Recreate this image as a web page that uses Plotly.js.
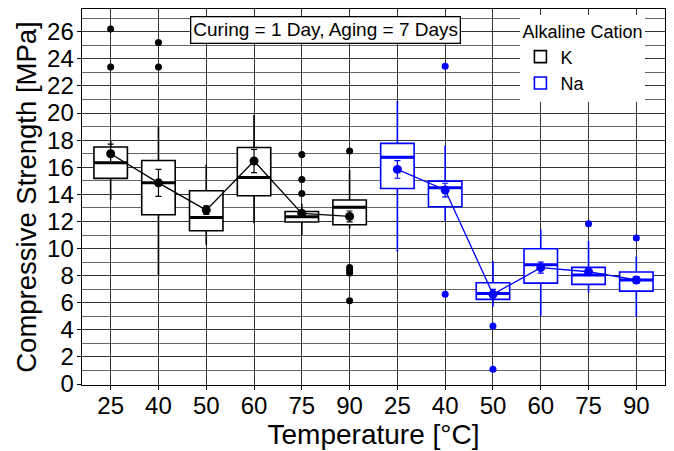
<!DOCTYPE html>
<html>
<head>
<meta charset="utf-8">
<script src="https://cdn.plot.ly/plotly-3.0.1.min.js"></script>
<style>html,body{margin:0;padding:0;background:#fff;}#chart{width:674px;height:451px;}</style>
</head>
<body>
<div id="chart"></div>
<script>
// Category labels (temperature, °C) and positions
var tempLabels = ['25','40','50','60','75','90','25','40','50','60','75','90'];
var kPos  = [0,1,2,3,4,5];
var naPos = [6,7,8,9,10,11];

// K (black) box statistics
var kQ1     = [15.18, 12.50, 11.31, 13.90, 11.96, 11.76];
var kMedian = [16.33, 14.86, 12.30, 15.25, 12.35, 13.04];
var kQ3     = [17.50, 16.50, 14.27, 17.46, 12.74, 13.58];
var kLow    = [13.60,  8.00, 10.26, 11.86, 11.00, 11.50];
var kHigh   = [18.00, 19.00, 16.20, 19.85, 13.30, 15.80];
var kMean   = [17.00, 14.85, 12.84, 16.46, 12.60, 12.37];
var kErr    = [0.70, 1.00, 0.32, 0.86, 0.15, 0.40];
var kOutX   = [0, 0, 1, 1, 4, 4, 4, 5, 5, 5, 5, 5];
var kOutY   = [26.2, 23.4, 25.2, 23.4, 16.95, 15.1, 14.07, 17.2, 8.6, 8.4, 8.2, 6.15];

// Na (blue) box statistics
var naQ1     = [14.43, 13.09, 6.25, 7.45, 7.36, 6.86];
var naMedian = [16.73, 14.49, 6.69, 8.81, 8.04, 7.68];
var naQ3     = [17.76, 14.98, 7.48, 9.99, 8.61, 8.27];
var naLow    = [ 9.76, 12.05, 5.70, 5.02, 6.74, 4.97];
var naHigh   = [20.90, 17.60, 9.08, 11.40, 10.55, 9.42];
var naMean   = [15.84, 14.32, 6.62, 8.59, 8.29, 7.68];
var naErr    = [0.65, 0.50, 0.37, 0.41, 0.15, 0.25];
var naOutX   = [7, 7, 8, 8, 10, 11];
var naOutY   = [23.45, 6.62, 4.28, 1.1, 11.83, 10.77];

var FONT = 'Liberation Sans, Arial, Helvetica, sans-serif';
var BLUE = '#0000ff';

function boxTrace(name, pos, q1, med, q3, lo, hi, color) {
  return {
    type: 'box', name: name, x: pos,
    q1: q1, median: med, q3: q3, lowerfence: lo, upperfence: hi,
    width: 0.7, whiskerwidth: 0,
    fillcolor: '#ffffff',
    line: {color: color, width: 1.6},
    boxpoints: false, hoverinfo: 'skip',
    legendgroup: name, showlegend: true
  };
}
function medianTrace(name, pos, med, color) {
  return {
    type: 'scatter', mode: 'markers', x: pos, y: med,
    marker: {symbol: 'line-ew', size: 23.8, color: color, line: {color: color, width: 3}},
    showlegend: false, hoverinfo: 'skip', legendgroup: name
  };
}
function outlierTrace(name, xs, ys, color) {
  return {
    type: 'scatter', mode: 'markers', x: xs, y: ys,
    marker: {size: 7, color: color},
    showlegend: false, hoverinfo: 'skip', legendgroup: name
  };
}
function meanTrace(name, pos, mean, err, color) {
  return {
    type: 'scatter', mode: 'lines+markers', x: pos, y: mean,
    line: {color: color, width: 1.3},
    marker: {size: 9, color: color},
    error_y: {type: 'data', array: err, visible: true, color: color, thickness: 1.2, width: 3},
    showlegend: false, hoverinfo: 'skip', legendgroup: name
  };
}

var data = [
  boxTrace('K', kPos, kQ1, kMedian, kQ3, kLow, kHigh, '#000000'),
  boxTrace('Na', naPos, naQ1, naMedian, naQ3, naLow, naHigh, BLUE),
  medianTrace('K', kPos, kMedian, '#000000'),
  medianTrace('Na', naPos, naMedian, BLUE),
  outlierTrace('K', kOutX, kOutY, '#000000'),
  outlierTrace('Na', naOutX, naOutY, BLUE),
  meanTrace('K', kPos, kMean, kErr, '#000000'),
  meanTrace('Na', naPos, naMean, naErr, BLUE)
];

var layout = {
  width: 674, height: 451,
  margin: {l: 82, r: 9, t: 9, b: 66},
  paper_bgcolor: '#ffffff', plot_bgcolor: '#ffffff',
  font: {family: FONT, color: '#000000'},
  xaxis: {
    range: [-0.6, 11.6],
    tickmode: 'array', tickvals: kPos.concat(naPos), ticktext: tempLabels,
    tickfont: {size: 24, color: '#000'},
    ticks: 'outside', ticklen: 4, tickcolor: '#000', tickwidth: 1,
    ticklabelstandoff: -5,
    showgrid: true, gridcolor: '#000', gridwidth: 0.8,
    showline: true, linecolor: '#000', linewidth: 1.4, mirror: true,
    zeroline: false,
    title: {text: 'Temperature [°C]', font: {size: 28, color: '#000'}, standoff: 0}
  },
  yaxis: {
    range: [-0.07, 27.68],
    tickmode: 'linear', tick0: 0, dtick: 2,
    tickfont: {size: 24, color: '#000'},
    ticks: 'outside', ticklen: 4, tickcolor: '#000', tickwidth: 1,
    ticklabelstandoff: -2,
    showgrid: true, gridcolor: '#000', gridwidth: 0.8,
    minor: {dtick: 1, showgrid: true, gridcolor: '#000', gridwidth: 0.6},
    showline: true, linecolor: '#000', linewidth: 1.4, mirror: true,
    zeroline: false,
    title: {text: 'Compressive Strength [MPa]', font: {size: 27.5, color: '#000'}, standoff: 2}
  },
  showlegend: true,
  legend: {
    x: 0.752, y: 0.984, xanchor: 'left', yanchor: 'top',
    bgcolor: '#ffffff', borderwidth: 0,
    title: {text: 'Alkaline Cation', font: {size: 18, color: '#000'}},
    font: {size: 18, color: '#000'},
    tracegroupgap: 0
  },
  annotations: [{
    xref: 'paper', yref: 'paper', x: 0.418, y: 0.944,
    xanchor: 'center', yanchor: 'middle', showarrow: false,
    text: 'Curing = 1 Day, Aging = 7 Days',
    font: {size: 19, color: '#000'},
    bgcolor: '#ffffff', bordercolor: '#000', borderwidth: 1.3, borderpad: 2
  }]
};

Plotly.newPlot('chart', data, layout, {displayModeBar: false, staticPlot: true});
</script>
</body>
</html>
